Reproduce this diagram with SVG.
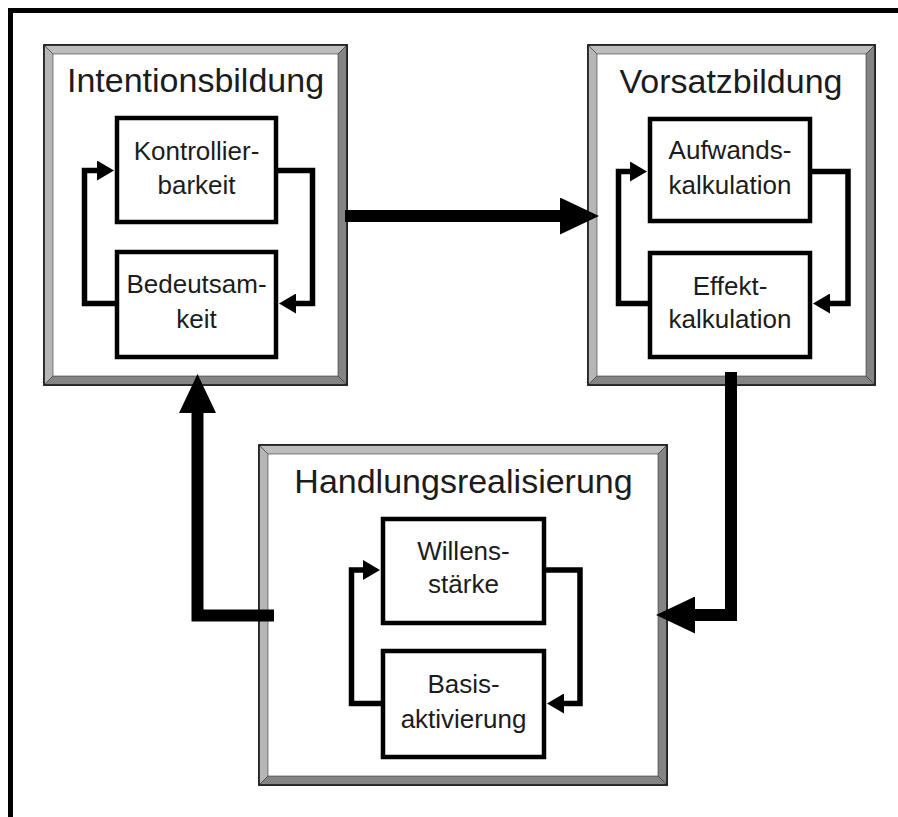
<svg xmlns="http://www.w3.org/2000/svg" width="898" height="817" viewBox="0 0 898 817">
  <style>
    .frame { fill: none; stroke: #000; stroke-width: 5; }
    .outline { fill: #fff; stroke: #1a1a1a; stroke-width: 1.5; }
    .lite { fill: #bdbdbd; stroke: #333; stroke-width: 0.6; }
    .lite2 { fill: #b6b6b6; stroke: #333; stroke-width: 0.6; }
    .dark { fill: #848484; stroke: #333; stroke-width: 0.6; }
    .inner { fill: #fff; stroke: #000; stroke-width: 4.5; }
    .title { font-family: "Liberation Sans", Arial, sans-serif; font-size: 34px; fill: #1c1c1c; text-anchor: middle; }
    .label { font-family: "Liberation Sans", Arial, sans-serif; font-size: 26px; fill: #1c1c1c; text-anchor: middle; }
    .loop { fill: none; stroke: #000; stroke-width: 5.5; stroke-linejoin: miter; }
    .flow { fill: none; stroke: #000; stroke-width: 12; stroke-linejoin: miter; }
  </style>
  <defs>
    <marker id="small" viewBox="0 0 17 20" refX="1" refY="10" markerWidth="17" markerHeight="20" markerUnits="userSpaceOnUse" orient="auto">
      <path d="M0,0 L17,10 L0,20 z" fill="#000"/>
    </marker>
    <marker id="big" viewBox="0 0 39 37" refX="1" refY="18.5" markerWidth="39" markerHeight="37" markerUnits="userSpaceOnUse" orient="auto">
      <path d="M0,0 L39,18.5 L0,37 z" fill="#000"/>
    </marker>
  </defs>

  <rect width="898" height="817" fill="#fff"/>

  <!-- page frame: top and left rules only -->
  <polyline class="frame" points="10.5,817 10.5,10.5 898,10.5"/>

  <!-- Intentionsbildung -->
  <g id="intentionsbildung">
    <rect class="outline" x="44" y="45" width="303" height="340"/>
    <polygon class="lite" points="44,45 347,45 338,54 53,54"/>
    <polygon class="lite2" points="44,45 53,54 53,376 44,385"/>
    <polygon class="dark" points="347,45 347,385 338,376 338,54"/>
    <polygon class="dark" points="44,385 347,385 338,376 53,376"/>
    <rect x="44" y="45" width="303" height="340" fill="none" stroke="#1a1a1a" stroke-width="1.5"/>
    <text class="title" x="195.5" y="92">Intentionsbildung</text>
    <g id="kontrollierbarkeit">
      <rect class="inner" x="117" y="118" width="159" height="104"/>
      <text class="label" x="196.5" y="160">Kontrollier-</text>
      <text class="label" x="196.5" y="194">barkeit</text>
    </g>
    <g id="bedeutsamkeit">
      <rect class="inner" x="117" y="252" width="159" height="105"/>
      <text class="label" x="196.5" y="293">Bedeutsam-</text>
      <text class="label" x="196.5" y="328">keit</text>
    </g>
  </g>

  <!-- Vorsatzbildung -->
  <g id="vorsatzbildung">
    <rect class="outline" x="588" y="45" width="287" height="340"/>
    <polygon class="lite" points="588,45 875,45 866,54 597,54"/>
    <polygon class="lite2" points="588,45 597,54 597,376 588,385"/>
    <polygon class="dark" points="875,45 875,385 866,376 866,54"/>
    <polygon class="dark" points="588,385 875,385 866,376 597,376"/>
    <rect x="588" y="45" width="287" height="340" fill="none" stroke="#1a1a1a" stroke-width="1.5"/>
    <text class="title" x="731" y="93">Vorsatzbildung</text>
    <g id="aufwandskalkulation">
      <rect class="inner" x="650" y="119" width="160" height="102"/>
      <text class="label" x="730" y="159">Aufwands-</text>
      <text class="label" x="730" y="194">kalkulation</text>
    </g>
    <g id="effektkalkulation">
      <rect class="inner" x="650" y="253" width="160" height="104"/>
      <text class="label" x="730" y="295">Effekt-</text>
      <text class="label" x="730" y="328">kalkulation</text>
    </g>
  </g>

  <!-- Handlungsrealisierung -->
  <g id="handlungsrealisierung">
    <rect class="outline" x="259" y="445" width="408" height="340"/>
    <polygon class="lite" points="259,445 667,445 658,454 268,454"/>
    <polygon class="lite2" points="259,445 268,454 268,776 259,785"/>
    <polygon class="dark" points="667,445 667,785 658,776 658,454"/>
    <polygon class="dark" points="259,785 667,785 658,776 268,776"/>
    <rect x="259" y="445" width="408" height="340" fill="none" stroke="#1a1a1a" stroke-width="1.5"/>
    <text class="title" x="463.5" y="493">Handlungsrealisierung</text>
    <g id="willensstaerke">
      <rect class="inner" x="383" y="519" width="161" height="104"/>
      <text class="label" x="463.5" y="560">Willens-</text>
      <text class="label" x="463.5" y="593">stärke</text>
    </g>
    <g id="basisaktivierung">
      <rect class="inner" x="383" y="651" width="161" height="106"/>
      <text class="label" x="463.5" y="693">Basis-</text>
      <text class="label" x="463.5" y="728">aktivierung</text>
    </g>
  </g>

  <!-- connectors -->
  <g id="connectors">
    <!-- feedback loops inside each phase -->
    <polyline class="loop" points="117,303.5 84.5,303.5 84.5,170.5 98,170.5" marker-end="url(#small)"/>
    <polyline class="loop" points="276,170.5 312.5,170.5 312.5,303.5 295,303.5" marker-end="url(#small)"/>

    <polyline class="loop" points="650,303.5 618.5,303.5 618.5,171.5 631,171.5" marker-end="url(#small)"/>
    <polyline class="loop" points="810,171.5 848,171.5 848,303.5 829,303.5" marker-end="url(#small)"/>

    <polyline class="loop" points="383,703.5 351.5,703.5 351.5,570 364,570" marker-end="url(#small)"/>
    <polyline class="loop" points="544,570 580,570 580,703.5 563,703.5" marker-end="url(#small)"/>

    <!-- transitions between phases -->
    <polyline class="flow" points="345,216 561,216" marker-end="url(#big)"/>
    <polyline class="flow" points="731,372 731,615 694,615" marker-end="url(#big)"/>
    <polyline class="flow" points="274,615.5 197.5,615.5 197.5,412" marker-end="url(#big)"/>
  </g>
</svg>
